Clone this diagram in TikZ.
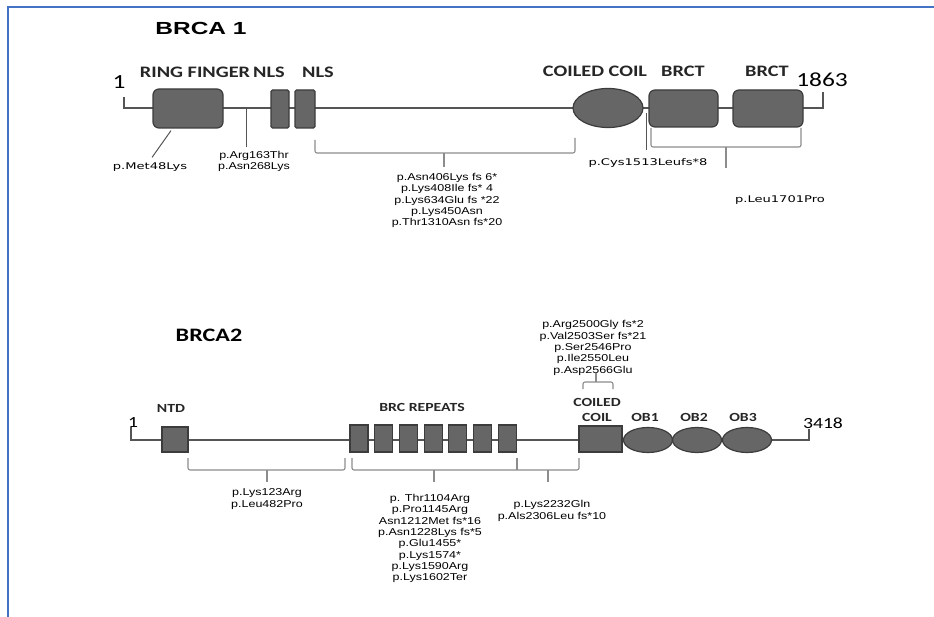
\documentclass[tikz,border=0pt]{standalone}
\usepackage{fontspec}
\newfontfamily\lblfont[FakeStretch=1.27]{Carlito}
\newfontfamily\mutfont[FakeStretch=1.25]{Liberation Sans}
\newfontfamily\ttlfont[FakeStretch=1.4]{Liberation Sans}
\newfontfamily\widefont[FakeStretch=1.42]{DejaVu Sans}
\usetikzlibrary{shapes.geometric}
\definecolor{frameblue}{RGB}{68,114,196}
\definecolor{domfill}{RGB}{102,102,102}
\definecolor{domline}{RGB}{60,60,60}
\definecolor{bbline}{RGB}{85,85,85}
\definecolor{brline}{RGB}{140,140,140}
\begin{document}
\begin{tikzpicture}[x=1pt,y=-1pt,
  dom/.style={draw=domline, fill=domfill, line width=1.2pt, inner sep=0pt},
  rdom/.style={dom, rounded corners=6pt},
  oval/.style={dom, ellipse},
  backbone/.style={draw=bbline, line width=1.8pt},
  brk/.style={draw=brline, line width=1.1pt, rounded corners=2pt},
  tick/.style={draw=bbline, line width=1pt},
  lblA/.style={inner sep=0pt, text=black!85, font=\lblfont\bfseries\fontsize{16}{18}\selectfont},
  lblB/.style={inner sep=0pt, align=center, text=black!85, font=\lblfont\bfseries\fontsize{12.4}{15}\selectfont},
  ttlA/.style={inner sep=0pt, font=\ttlfont\bfseries\fontsize{17.5}{20}\selectfont},
  ttlB/.style={inner sep=0pt, font=\lblfont\bfseries\fontsize{19}{21}\selectfont},
  mut/.style={inner sep=0pt, align=center, font=\mutfont\fontsize{10}{11.3}\selectfont},
  wide/.style={inner sep=0pt, font=\widefont\fontsize{9.2}{11}\selectfont},
  numA/.style={inner sep=0pt, font=\lblfont\fontsize{20}{22}\selectfont},
  numB/.style={inner sep=0pt, font=\lblfont\fontsize{15.5}{17}\selectfont}
]
\useasboundingbox (0,0) rectangle (934,617);
% frame
\draw[frameblue, line width=2.6pt] (8,617) -- (8,7) -- (934,7);

% ================= BRCA1 =================
\node[ttlA] (t1) at (201,28) {BRCA 1};
\coordinate (a1s) at (124,97);
\coordinate (a1e) at (823,92);
\draw[backbone] (a1s) -- (124,108) -- (823,108) -- (a1e);
\node[numA] (n1) at (119,82) {1};
\node[numA] (n1863) at (822,80) {1863};

\node[rdom, minimum width=70pt, minimum height=39pt] (ring) at (188,108.5) {};
\node[dom, rounded corners=1.5pt, minimum width=18pt, minimum height=38pt] (nls1) at (280,109) {};
\node[dom, rounded corners=1.5pt, minimum width=20pt, minimum height=38pt] (nls2) at (305,109) {};
\node[oval, minimum width=70pt, minimum height=39pt] (cc1) at (608,108) {};
\node[rdom, minimum width=69pt, minimum height=37pt] (brct1) at (683.5,108.5) {};
\node[rdom, minimum width=70pt, minimum height=37pt] (brct2) at (768,108.5) {};

\node[lblA] (lring) at (195,72) {RING FINGER};
\node[lblA] (lnls1) at (269,72) {NLS};
\node[lblA] (lnls2) at (318,72) {NLS};
\node[lblA] (lcc1) at (595,71) {COILED COIL};
\node[lblA] (lbrct1) at (683,71) {BRCT};
\node[lblA] (lbrct2) at (767,71) {BRCT};

% mutations BRCA1
\node[wide] (m48) at (150,167) {p.Met48Lys};
\draw[tick] ([xshift=-17pt,yshift=-2pt]ring.south) -- ([xshift=2pt,yshift=5pt]m48.north);

\coordinate (p163) at (246,108);
\node[mut] (m163) at (254,161.5) {p.Arg163Thr\\p.Asn268Lys};
\draw[tick] (p163) -- (246,147);

\draw[brk] (315,140) -- (315,153) -- (575,153) -- (575,138);
\coordinate (k1) at (444,153);
\node[mut] (m406) at (447,200.5) {p.Asn406Lys fs 6*\\p.Lys408Ile fs* 4\\p.Lys634Glu fs *22\\p.Lys450Asn\\p.Thr1310Asn fs*20};
\draw[brk] (k1) -- (444,167);

\node[wide] (m1513) at (648,163) {p.Cys1513Leufs*8};
\coordinate (p1513) at (646,113);
\draw[tick] (p1513) -- (646,150);

\draw[brk] (651,128) -- (651,147) -- (801,147) -- (801,128);
\coordinate (k2) at (726,147);
\draw[brk] (k2) -- (726,168);
\node[wide] (m1701) at (780,200) {p.Leu1701Pro};

% ================= BRCA2 =================
\node[ttlB] (t2) at (209,335) {BRCA2};
\coordinate (b2s) at (131,427);
\coordinate (b2e) at (809,429);
\draw[backbone] (b2s) -- (131,440) -- (809,440) -- (b2e);
\node[numB] (n1b) at (133,423) {1};
\node[numB] (n3418) at (823,423) {3418};

\node[dom, minimum width=26pt, minimum height=25pt] (ntd) at (175,439.5) {};
\foreach \i/\x in {1/350,2/374.7,3/399.4,4/424.1,5/448.8,6/473.5,7/498.2}
  \node[dom, minimum width=18pt, minimum height=27pt] (brc\i) at (\x+9,438.5) {};
\node[dom, minimum width=43pt, minimum height=26pt] (cc2) at (600.5,439) {};
\node[oval, minimum width=49pt, minimum height=25pt] (ob1) at (648,440) {};
\node[oval, minimum width=49pt, minimum height=25pt] (ob2) at (697,440) {};
\node[oval, minimum width=49pt, minimum height=25pt] (ob3) at (747,440) {};

\node[lblB] (lntd) at (171,408) {NTD};
\node[lblB] (lbrc) at (422,407) {BRC REPEATS};
\node[lblB] (lcc2) at (597,409.5) {COILED\\COIL};
\node[lblB] (lob1) at (645,417) {OB1};
\node[lblB] (lob2) at (694,417) {OB2};
\node[lblB] (lob3) at (743,417) {OB3};

% top bracket over coiled coil
\node[mut] (m2500) at (593,348) {p.Arg2500Gly fs*2\\p.Val2503Ser fs*21\\p.Ser2546Pro\\p.Ile2550Leu\\p.Asp2566Glu};
\draw[brk] (583,389) -- (583,382) -- (613,382) -- (613,389);
\coordinate (k3) at (596,382);
\draw[brk] (k3) -- (596,373);

% bottom brackets
\draw[brk] (188,458) -- (188,470) -- (345,470) -- (345,458);
\coordinate (k4) at (267,470);
\draw[brk] (k4) -- (267,482);
\node[mut] (m123) at (267,499) {p.Lys123Arg\\p.Leu482Pro};

\draw[brk] (352,458) -- (352,470) -- (579,470) -- (579,458);
\draw[brk] (517,458) -- (517,470);
\coordinate (k5) at (434,470);
\draw[brk] (k5) -- (434,482);
\node[mut] (m1104) at (430,538.5) {p. Thr1104Arg\\p.Pro1145Arg\\Asn1212Met fs*16\\p.Asn1228Lys fs*5\\p.Glu1455*\\p.Lys1574*\\p.Lys1590Arg\\p.Lys1602Ter};
\coordinate (k6) at (548,470);
\draw[brk] (k6) -- (548,482);
\node[mut] (m2232) at (552,511) {p.Lys2232Gln\\p.Als2306Leu fs*10};
\end{tikzpicture}
\end{document}
